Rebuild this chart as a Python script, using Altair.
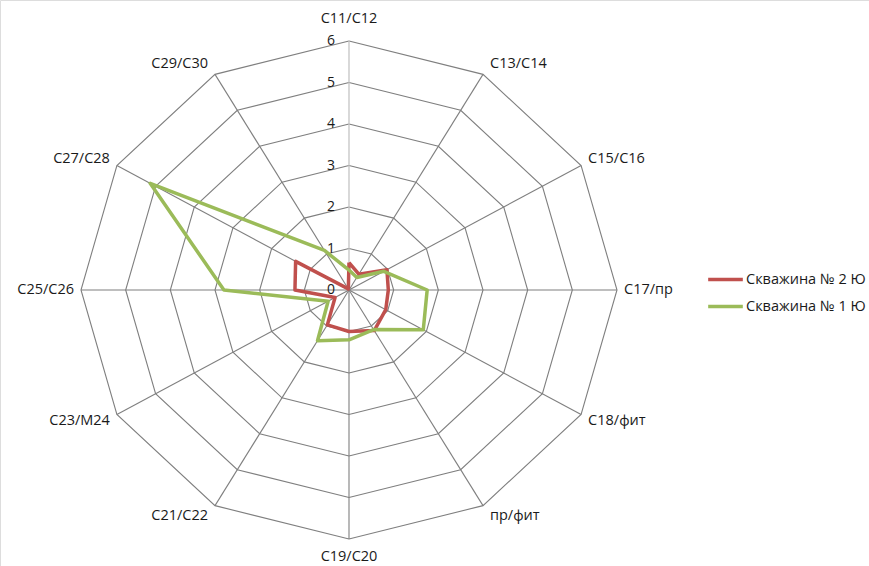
import math
import altair as alt
import pandas as pd

# ---- data ----
categories = ["C11/C12", "C13/C14", "C15/C16", "C17/пр", "C18/фит", "пр/фит",
              "C19/C20", "C21/C22", "C23/M24", "C25/C26", "C27/C28", "C29/C30"]
series_names = ["Скважина № 2 Ю", "Скважина № 1 Ю"]
well_2 = [0.66, 0.44, 0.98, 0.88, 0.95, 1.13, 1.00, 0.97, 0.36, 1.21, 1.38, 0.03]
well_1 = [0.48, 0.35, 0.90, 1.75, 1.92, 1.10, 1.20, 1.41, 0.54, 2.80, 5.14, 1.10]
tick_values = [0, 1, 2, 3, 4, 5, 6]
series_colors = ["#C0504D", "#9BBB59"]

FONT = "Open Sans"
n = len(categories)
rmax = max(tick_values)

def ang(i):
    return 2 * math.pi * i / n

# series rows (closed polygons)
rows = []
for name, vals in zip(series_names, [well_2, well_1]):
    for k in range(n + 1):
        i = k % n
        v = vals[i]
        rows.append({"series": name, "ord": k, "category": categories[i],
                     "x": v * math.sin(ang(i)), "y": v * math.cos(ang(i))})
series_df = pd.DataFrame(rows)

# grid rings
ring_rows = []
for r in tick_values[1:]:
    for k in range(n + 1):
        i = k % n
        ring_rows.append({"ring": r, "ord": k,
                          "x": r * math.sin(ang(i)), "y": r * math.cos(ang(i))})
ring_df = pd.DataFrame(ring_rows)

# spokes
spoke_df = pd.DataFrame([{"category": c, "idx": i, "x0": 0.0, "y0": 0.0,
                          "x": rmax * math.sin(ang(i)), "y": rmax * math.cos(ang(i))}
                         for i, c in enumerate(categories)])

# category labels
lab_df = pd.DataFrame([{"category": c, "idx": i,
                        "x": rmax * math.sin(ang(i)),
                        "y": (rmax + 0.3) * math.cos(ang(i))}
                       for i, c in enumerate(categories)])

tick_df = pd.DataFrame({"v": tick_values, "x": [0.0] * len(tick_values),
                        "label": [str(t) for t in tick_values]})

# ---- scales: plot area is the whole page ----
W, H = 869, 566
cx, cy = 349, 290
sx, sy = 268 / rmax, 249 / rmax
xs = alt.Scale(domain=[-cx / sx, (W - cx) / sx], nice=False, zero=False)
ys = alt.Scale(domain=[-(H - cy) / sy, cy / sy], nice=False, zero=False)

X = lambda f="x": alt.X(f"{f}:Q", scale=xs, axis=None)
Y = lambda f="y": alt.Y(f"{f}:Q", scale=ys, axis=None)

GRID = "#7f7f7f"

rings = alt.Chart(ring_df).mark_line(color=GRID, strokeWidth=1.1).encode(
    x=X(), y=Y(), detail="ring:N", order="ord:Q")

spokes = alt.Chart(spoke_df).transform_filter("datum.idx != 0").mark_rule(
    color=GRID, strokeWidth=1.1).encode(
    x=X("x0"), y=Y("y0"), x2="x:Q", y2="y:Q")

vaxis = alt.Chart(spoke_df).transform_filter("datum.idx == 0").mark_rule(
    color="#c4c4c4", strokeWidth=1.3).encode(
    x=X("x0"), y=Y("y0"), x2="x:Q", y2="y:Q")

lines = alt.Chart(series_df).mark_line(strokeWidth=3.5, strokeJoin="round").encode(
    x=X(), y=Y(), order="ord:Q",
    color=alt.Color("series:N",
                    scale=alt.Scale(domain=series_names, range=series_colors),
                    sort=series_names,
                    legend=alt.Legend(title=None, orient="none",
                                      legendX=706, legendY=260,
                                      symbolType="stroke", symbolSize=1200,
                                      symbolStrokeWidth=3.5, rowPadding=0,
                                      labelFont=FONT, labelFontSize=14.5,
                                      labelColor="#1a1a1a", labelOffset=1)))

ticks = alt.Chart(tick_df).mark_text(align="right", baseline="middle", dx=-14,
                                     font=FONT, fontSize=14, color="#1a1a1a").encode(
    x=X(), y=Y("v"), text="label:N")

txt = dict(font=FONT, fontSize=14.5, color="#1a1a1a", baseline="middle")
lab_top = alt.Chart(lab_df).transform_filter("datum.idx == 0").mark_text(
    align="center", dy=-10, **txt).encode(x=X(), y=Y(), text="category:N")
lab_bot = alt.Chart(lab_df).transform_filter("datum.idx == 6").mark_text(
    align="center", dy=6, **txt).encode(x=X(), y=Y(), text="category:N")
lab_right = alt.Chart(lab_df).transform_filter("datum.idx > 0 && datum.idx < 6").mark_text(
    align="left", dx=7, **txt).encode(x=X(), y=Y(), text="category:N")
lab_left = alt.Chart(lab_df).transform_filter("datum.idx > 6").mark_text(
    align="right", dx=-7, **txt).encode(x=X(), y=Y(), text="category:N")

chart = alt.layer(rings, spokes, vaxis, lines, ticks,
                  lab_top, lab_bot, lab_right, lab_left).properties(
    width=W, height=H, padding=0, autosize=alt.AutoSizeParams(type="none")
).configure_view(stroke=None).configure(background="white")

chart.save("out.html", embed_options={"renderer": "svg", "actions": False})
